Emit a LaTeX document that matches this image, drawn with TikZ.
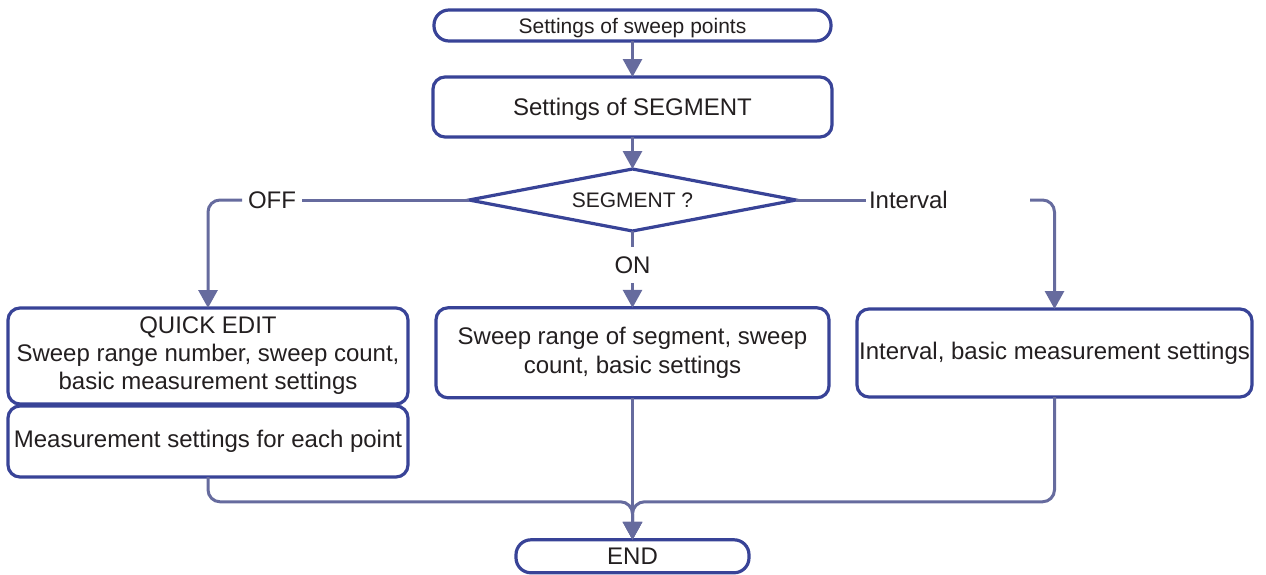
\documentclass[tikz,border=0pt]{standalone}
\usepackage{fontspec}
\setmainfont{Liberation Sans}
\usepackage{xcolor}
\usepackage{tikz}
\usetikzlibrary{positioning,arrows.meta,shapes.geometric}
\definecolor{boxblue}{RGB}{56,67,151}
\definecolor{linkblue}{RGB}{102,107,158}
\definecolor{inkgray}{RGB}{35,31,32}
\begin{document}
\begin{tikzpicture}[
    x=1pt,y=1pt,
    node distance=30pt,
    box/.style={draw=boxblue,line width=3.2pt,rounded corners=12pt,align=center,inner sep=2pt,outer sep=0pt,text=inkgray,font=\fontsize{24}{29}\selectfont},
    term/.style={box,rounded corners=15pt,font=\fontsize{21}{25}\selectfont},
    decide/.style={draw=boxblue,line width=3.2pt,shape=diamond,aspect=5.27,inner sep=0pt,outer sep=0pt,minimum width=327pt,minimum height=62pt,text=inkgray,font=\fontsize{21}{25}\selectfont},
    lbl/.style={inner sep=3pt,outer sep=0pt,text=inkgray,font=\fontsize{24}{28}\selectfont},
    link/.style={draw=linkblue,line width=3pt},
    arr/.style={link,-{Triangle[length=18pt,width=19pt]}}
  ]
    \useasboundingbox (0,0) rectangle (1266,-574);
    \node[term,text depth=0pt,minimum width=397pt,minimum height=31pt] (start) at (632.5,-25.5) {Settings of sweep points};
    \node[box,text depth=0pt,minimum width=399pt,minimum height=60pt,below=36pt of start] (seg) {Settings of SEGMENT};
    \node[decide,below=32pt of seg] (ask) {SEGMENT ?};
    \node[lbl,inner ysep=9.4pt,below=16pt of ask] (on) {ON};
    \node[lbl,inner xsep=6pt] (off) at (272,-200) {OFF};
    \node[lbl,text width=158pt,align=left] (intv) at (948,-200) {Interval};
    \node[box,minimum width=400pt,minimum height=96pt,font=\fontsize{24}{28}\selectfont] (quick) at (208,-356) {QUICK EDIT\\Sweep range number, sweep count,\\basic measurement settings};
    \node[box,minimum width=400pt,minimum height=71pt,below=2pt of quick] (each) {Measurement settings for each point};
    \node[box,minimum width=393pt,minimum height=90pt,below=25pt of on] (range) {Sweep range of segment, sweep\\count, basic settings};
    \node[box,minimum width=395pt,minimum height=88pt] (basic) at (1054.5,-353) {Interval, basic measurement settings};
    \node[term,minimum width=233pt,minimum height=33pt,font=\fontsize{24}{28}\selectfont,below=142pt of range] (finish) {END};
    \path (finish.north) ++(0,38) coordinate (join);
    % flow
    \draw[arr] (start) -- (seg);
    \draw[arr] (seg) -- (ask);
    \draw[link] (ask.west) -- (off);
    \draw[arr,rounded corners=12pt] (off) -| (quick.north);
    \draw[link] (ask.south) -- (on);
    \draw[arr] (on) -- (range);
    \draw[link] (ask.east) -- (intv.west);
    \draw[arr,rounded corners=12pt] (intv.east) -| (basic.north);
    % back to the end
    \draw[arr,rounded corners=12pt] (each.south) |- (join) -- (finish.north);
    \draw[arr,rounded corners=12pt] (basic.south) |- (join) -- (finish.north);
    \draw[arr] (range.south) -- (finish.north);
  \end{tikzpicture}
\end{document}
